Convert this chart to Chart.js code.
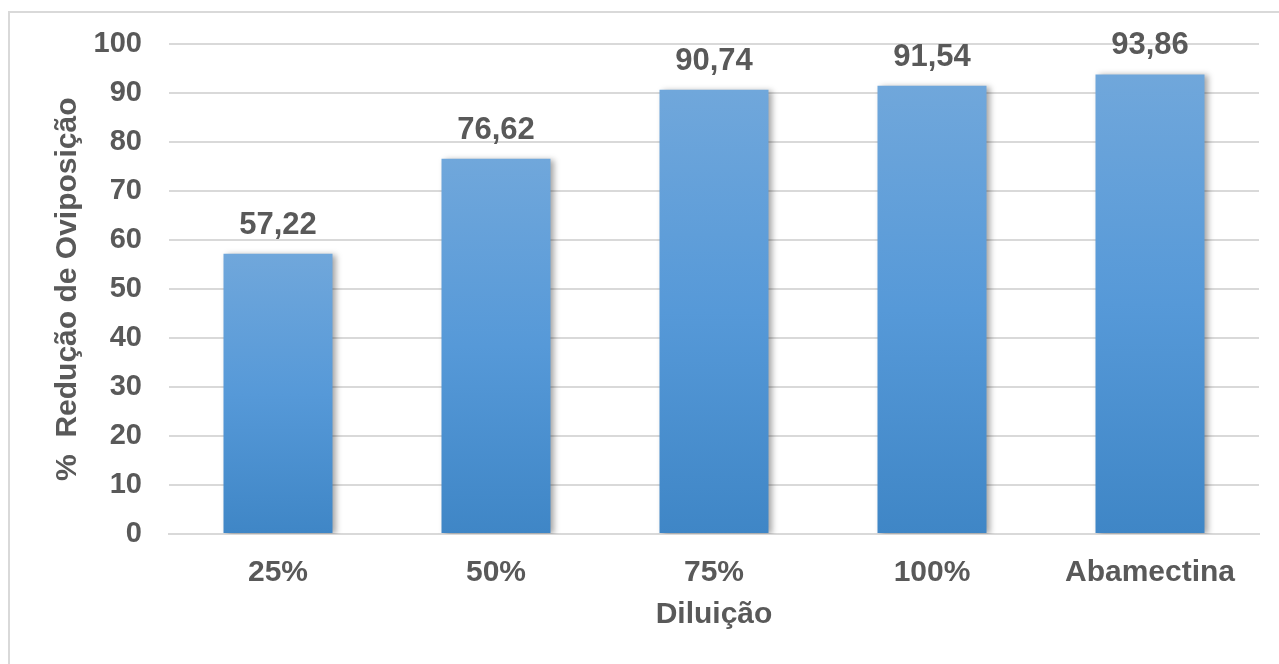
<!DOCTYPE html>
<html lang="pt">
<head>
<meta charset="utf-8">
<title>Redução de Oviposição por Diluição</title>
<script src="https://cdn.jsdelivr.net/npm/chart.js@4/dist/chart.umd.min.js"></script>
<style>
    html, body {
        margin: 0;
        padding: 0;
        background: #ffffff;
    }
    #box {
        width: 1279px;
        height: 664px;
    }
</style>
</head>
<body>
<div id="box"><canvas id="ovipChart" width="1279" height="664"></canvas></div>
<script>
const categories = ["25%", "50%", "75%", "100%", "Abamectina"];
const reducao = [57.22, 76.62, 90.74, 91.54, 93.86];
const yTicks = [0, 10, 20, 30, 40, 50, 60, 70, 80, 90, 100];

const textColor = "#595959";
const gridColor = "#d9d9d9";
const fontFamily = "'Liberation Sans', Arial, sans-serif";

// Valor com vírgula decimal
function formatValue(v) {
    return v.toFixed(2).replace(".", ",");
}

// Gradiente vertical em cada barra
function barGradient(context) {
    const chart = context.chart;
    const yScale = chart.scales.y;
    if (!chart.chartArea || !yScale) {
        return "#5596d2";
    }
    const top = yScale.getPixelForValue(context.raw);
    const base = yScale.getPixelForValue(0);
    const g = chart.ctx.createLinearGradient(0, top, 0, base);
    g.addColorStop(0, "#70a7db");
    g.addColorStop(0.5, "#5699d8");
    g.addColorStop(1, "#3f86c6");
    return g;
}

// Moldura cinza clara
const frame = {
    id: "frame",
    beforeDraw(chart) {
        const ctx = chart.ctx;
        ctx.save();
        ctx.strokeStyle = "#d9d9d9";
        ctx.lineWidth = 2;
        ctx.strokeRect(9, 12, 1300, 700);
        ctx.restore();
    }
};

// Sombra das barras
const barShadow = {
    id: "barShadow",
    beforeDatasetDraw(chart) {
        const ctx = chart.ctx;
        ctx.save();
        ctx.shadowColor = "rgba(0, 0, 0, 0.35)";
        ctx.shadowBlur = 6;
        ctx.shadowOffsetX = 3;
        ctx.shadowOffsetY = 1;
    },
    afterDatasetDraw(chart) {
        chart.ctx.restore();
    }
};

// Rótulos de valor acima das barras
const valueLabels = {
    id: "valueLabels",
    afterDatasetsDraw(chart) {
        const ctx = chart.ctx;
        const meta = chart.getDatasetMeta(0);
        ctx.save();
        ctx.fillStyle = textColor;
        ctx.font = "bold 31px " + fontFamily;
        ctx.textAlign = "center";
        ctx.textBaseline = "alphabetic";
        meta.data.forEach((bar, i) => {
            ctx.fillText(formatValue(reducao[i]), bar.x, bar.y - 20);
        });
        ctx.restore();
    }
};

const ctx = document.getElementById("ovipChart");

new Chart(ctx, {
    type: "bar",
    data: {
        labels: categories,
        datasets: [{
            data: reducao,
            backgroundColor: barGradient,
            borderWidth: 0,
            barPercentage: 0.5,
            categoryPercentage: 1
        }]
    },
    options: {
        responsive: false,
        animation: false,
        layout: {
            padding: { top: 44, right: 20, bottom: 0, left: 0 }
        },
        plugins: {
            legend: { display: false },
            tooltip: { enabled: false }
        },
        scales: {
            x: {
                grid: { display: false, drawTicks: false },
                border: { display: true, color: gridColor, width: 2 },
                ticks: {
                    color: textColor,
                    font: { family: fontFamily, size: 30, weight: "bold" },
                    padding: 21,
                    maxRotation: 0
                },
                title: {
                    display: true,
                    text: "Diluição",
                    color: textColor,
                    font: { family: fontFamily, size: 30, weight: "bold" },
                    padding: { top: 8, bottom: 31 }
                },
                afterFit(scale) {
                    scale.height = 130;
                }
            },
            y: {
                min: 0,
                max: 100,
                afterBuildTicks(scale) {
                    scale.ticks = yTicks.map(v => ({ value: v }));
                },
                grid: { color: gridColor, lineWidth: 2, drawTicks: false },
                border: { display: false },
                ticks: {
                    color: textColor,
                    font: { family: fontFamily, size: 29, weight: "bold" },
                    padding: 27
                },
                title: {
                    display: true,
                    text: "%  Redução de Oviposição",
                    color: textColor,
                    font: { family: fontFamily, size: 30, weight: "bold" },
                    padding: { top: 50, bottom: 0 }
                },
                afterFit(scale) {
                    scale.width = 169;
                }
            }
        }
    },
    plugins: [frame, barShadow, valueLabels]
});
</script>
</body>
</html>
